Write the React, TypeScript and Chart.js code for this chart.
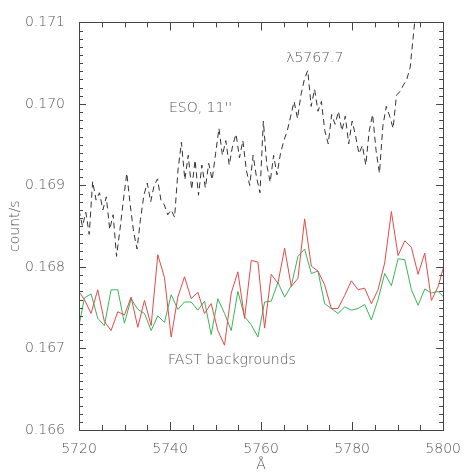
import React, { useEffect, useRef } from "react";
import { Chart, registerables } from "chart.js";

Chart.register(...registerables);

// FAST background spectra (red / green), uniform wavelength grid
const FAST_START = 5719.72;
const FAST_STEP = 1.466;
const fastRed = [
  0.16772, 0.16760, 0.16743, 0.16772, 0.16733, 0.16722, 0.16745, 0.16741, 0.16763, 0.16726,
  0.16759, 0.16728, 0.16815, 0.16787, 0.16714, 0.16763, 0.16788, 0.16761, 0.16769, 0.16743,
  0.16755, 0.16722, 0.16704, 0.16768, 0.16794, 0.16737, 0.16808, 0.16806, 0.16725, 0.16791,
  0.16780, 0.16823, 0.16776, 0.16786, 0.16859, 0.16801, 0.16795, 0.16778, 0.16749, 0.16749,
  0.16765, 0.16783, 0.16772, 0.16774, 0.16755, 0.16772, 0.16805, 0.16868, 0.16814, 0.16832,
  0.16824, 0.16791, 0.16817, 0.16759, 0.16776, 0.16805,
];
const fastGreen = [
  0.16720, 0.16762, 0.16767, 0.16737, 0.16728, 0.16772, 0.16772, 0.16731, 0.16761, 0.16748,
  0.16743, 0.16722, 0.16740, 0.16732, 0.16766, 0.16748, 0.16757, 0.16757, 0.16747, 0.16758,
  0.16717, 0.16761, 0.16743, 0.16722, 0.16770, 0.16739, 0.16729, 0.16714, 0.16757, 0.16758,
  0.16781, 0.16763, 0.16777, 0.16813, 0.16822, 0.16792, 0.16795, 0.16755, 0.16749, 0.16743,
  0.16751, 0.16747, 0.16749, 0.16754, 0.16735, 0.16760, 0.16792, 0.16777, 0.16810, 0.16809,
  0.16772, 0.16753, 0.16773, 0.16768, 0.16770, 0.16762,
];

// ESO 11'' spectrum (dashed black)
const ESO_START = 5720;
const ESO_STEP = 0.75;
const esoValues = [
  0.16870, 0.16850, 0.16867, 0.16840, 0.16905, 0.16882, 0.16891, 0.16870, 0.16886, 0.16846,
  0.16864, 0.16813, 0.16846, 0.16882, 0.16915, 0.16876, 0.16843, 0.16822, 0.16858, 0.16888,
  0.16903, 0.16880, 0.16900, 0.16908, 0.16882, 0.16876, 0.16864, 0.16870, 0.16861, 0.16919,
  0.16953, 0.16907, 0.16937, 0.16895, 0.16931, 0.16888, 0.16925, 0.16897, 0.16927, 0.16907,
  0.16939, 0.16970, 0.16937, 0.16955, 0.16925, 0.16949, 0.16963, 0.16934, 0.16955, 0.16919,
  0.16900, 0.16937, 0.16910, 0.16891, 0.16979, 0.16925, 0.16904, 0.16937, 0.16913, 0.16939,
  0.16955, 0.16967, 0.16985, 0.17003, 0.16982, 0.17011, 0.17030, 0.17041, 0.16997, 0.17018,
  0.16991, 0.17003, 0.16967, 0.16951, 0.16987, 0.16975, 0.16991, 0.16967, 0.16985, 0.16951,
  0.16979, 0.16961, 0.16939, 0.16949, 0.16925, 0.16967, 0.16987, 0.16943, 0.16915, 0.16973,
  0.16997, 0.16985, 0.16970, 0.17011, 0.17015, 0.17023, 0.17030, 0.17045, 0.17087, 0.17129,
];

const X_MIN = 5720;
const X_MAX = 5800;
const Y_MIN = 0.166;
const Y_MAX = 0.171;
const X_MAJOR = 20;
const X_MINOR = 5;
const Y_MAJOR = 0.001;
const Y_MINOR = 0.0001;

const annotations = [
  { text: "λ5767.7", x: 5771.8, y: 0.17056 },
  { text: "ESO, 11''", x: 5746.7, y: 0.16995 },
  { text: "FAST backgrounds", x: 5753.6, y: 0.16685 },
];

const FONT = "DejaVu Sans";
const FONT_WEIGHT = "200";
const TEXT_COLOR = "#555";
const AXIS_COLOR = "#444";

const toXY = (start: number, step: number, vals: number[]) =>
  vals.map((v, i) => ({ x: start + step * i, y: v }));

const tickPlugin = {
  id: "idlTicks",
  afterDatasetsDraw(chart: any) {
    const { ctx, chartArea } = chart;
    const xs = chart.scales.x;
    const ys = chart.scales.y;
    const { left, right, top, bottom } = chartArea;
    ctx.save();
    ctx.strokeStyle = AXIS_COLOR;
    ctx.lineWidth = 1;
    ctx.beginPath();
    const nx = Math.round((X_MAX - X_MIN) / X_MINOR);
    for (let i = 0; i <= nx; i++) {
      const v = X_MIN + i * X_MINOR;
      const px = Math.round(xs.getPixelForValue(v)) + 0.5;
      const major = Math.abs((v - X_MIN) % X_MAJOR) < 1e-6;
      const len = major ? 8 : 5;
      ctx.moveTo(px, bottom);
      ctx.lineTo(px, bottom - len);
      ctx.moveTo(px, top);
      ctx.lineTo(px, top + len);
    }
    const ny = Math.round((Y_MAX - Y_MIN) / Y_MINOR);
    for (let i = 0; i <= ny; i++) {
      const v = Y_MIN + i * Y_MINOR;
      const py = Math.round(ys.getPixelForValue(v)) + 0.5;
      const major = i % 10 === 0;
      const len = major ? 7 : 4;
      ctx.moveTo(left, py);
      ctx.lineTo(left + len, py);
      ctx.moveTo(right, py);
      ctx.lineTo(right - len, py);
    }
    ctx.stroke();
    ctx.strokeRect(Math.round(left) + 0.5, Math.round(top) + 0.5, Math.round(right - left), Math.round(bottom - top));
    ctx.fillStyle = TEXT_COLOR;
    ctx.font = `${FONT_WEIGHT} 14px "${FONT}"`;
    ctx.textAlign = "center";
    ctx.textBaseline = "middle";
    for (const a of annotations) {
      ctx.fillText(a.text, xs.getPixelForValue(a.x), ys.getPixelForValue(a.y));
    }
    ctx.restore();
  },
};

export default function App() {
  const ref = useRef<HTMLCanvasElement>(null);
  useEffect(() => {
    if (!ref.current) return;
    const chart = new Chart(ref.current, {
      type: "line",
      data: {
        datasets: [
          {
            label: "ESO",
            data: toXY(ESO_START, ESO_STEP, esoValues),
            borderColor: "#333",
            borderWidth: 1,
            borderDash: [6, 4],
            pointRadius: 0,
            tension: 0,
          },
          {
            label: "FAST red",
            data: toXY(FAST_START, FAST_STEP, fastRed),
            borderColor: "#e34a4a",
            borderWidth: 1,
            pointRadius: 0,
            tension: 0,
          },
          {
            label: "FAST green",
            data: toXY(FAST_START, FAST_STEP, fastGreen),
            borderColor: "#3db35a",
            borderWidth: 1,
            pointRadius: 0,
            tension: 0,
          },
        ],
      },
      options: {
        responsive: false,
        animation: false,
        events: [],
        layout: { padding: { top: 14, right: 17, left: 0, bottom: 0 } },
        plugins: { legend: { display: false }, tooltip: { enabled: false } },
        scales: {
          x: {
            type: "linear",
            min: X_MIN,
            max: X_MAX,
            afterFit: (s: any) => { s.height = 42; },
            grid: { display: false, drawTicks: false },
            border: { display: false },
            ticks: {
              stepSize: X_MAJOR,
              padding: 11,
              color: TEXT_COLOR,
              font: { family: FONT, size: 14, weight: FONT_WEIGHT },
              maxRotation: 0,
              callback: (v: any) => String(v),
            },
            title: {
              display: true,
              text: "Å",
              color: TEXT_COLOR,
              font: { family: FONT, size: 14, lineHeight: 1, weight: FONT_WEIGHT },
              padding: 0,
            },
          },
          y: {
            type: "linear",
            min: Y_MIN,
            max: Y_MAX,
            afterFit: (s: any) => { s.width = 79; },
            grid: { display: false, drawTicks: false },
            border: { display: false },
            ticks: {
              stepSize: Y_MAJOR,
              padding: 14,
              color: TEXT_COLOR,
              font: { family: FONT, size: 14, weight: FONT_WEIGHT },
              callback: (v: any) => Number(v).toFixed(3),
            },
            title: {
              display: true,
              text: "count/s",
              color: TEXT_COLOR,
              font: { family: FONT, size: 14, lineHeight: 1, weight: FONT_WEIGHT },
              padding: { top: 8, bottom: 0 },
            },
          },
        },
      },
      plugins: [tickPlugin],
    });
    return () => chart.destroy();
  }, []);
  return (
    <div style={{ position: "fixed", left: 0, top: 0, width: 472, height: 472, background: "#fff" }}>
      <canvas ref={ref} width={472} height={472} style={{ display: "block" }} />
    </div>
  );
}
